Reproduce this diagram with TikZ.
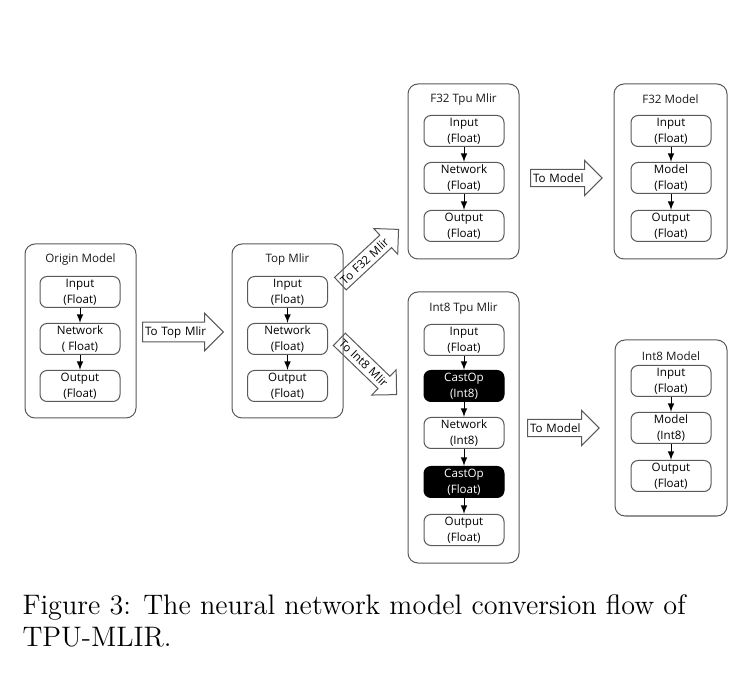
\documentclass[tikz,border=0pt]{standalone}
\usepackage{fontspec}
\newfontfamily\boxfont{Open Sans}
\usetikzlibrary{arrows,shapes.arrows}

\begin{document}
\begin{tikzpicture}[x=0.5pt,y=-0.5pt,line width=0.5pt,
    font=\boxfont\fontsize{5.8}{8}\selectfont]

      \useasboundingbox (0,0) rectangle (739,673);

      % outer frames
      \begin{scope}[every node/.style={draw=black!65,rounded corners=5pt,minimum width=55.5pt}]
        \node[minimum height=87pt] (om) at (80.5,331) {};
        \node[minimum height=87pt] (tm) at (287.5,331) {};
        \node[minimum height=87.5pt] (fm) at (463.5,171.5) {};
        \node[minimum height=87.5pt,minimum width=56.5pt] (fmod) at (670.5,171.5) {};
        \node[minimum height=135.5pt] (im) at (463.5,427.5) {};
        \node[minimum height=88pt,minimum width=56pt] (imod) at (671,428) {};
      \end{scope}

      \begin{scope}[every node/.style={text=black!90}]
        \node (omt) at (80.5,259) {Origin Model};
        \node (tmt) at (287.5,259) {Top Mlir};
        \node (fmt) at (463.5,99) {F32 Tpu Mlir};
        \node (fmodt) at (670.5,99) {F32 Model};
        \node (imt) at (463.5,308) {Int8 Tpu Mlir};
        \node (imodt) at (671,356) {Int8 Model};
      \end{scope}

      % inner boxes
      \begin{scope}[every node/.style={draw=black!65,rounded corners=3.5pt,minimum width=40pt,
          minimum height=15.5pt,inner sep=0pt,align=center}]
        \node (o1) at (80,292) {Input\\(Float)};
        \node (o2) at (80,339) {Network\\( Float)};
        \node (o3) at (80,386) {Output\\(Float)};

        \node (t1) at (287.5,292) {Input\\(Float)};
        \node (t2) at (287.5,339) {Network\\(Float)};
        \node (t3) at (287.5,386) {Output\\(Float)};

        \node (f1) at (464,131) {Input\\(Float)};
        \node (f2) at (464,178) {Network\\(Float)};
        \node (f3) at (464,226) {Output\\(Float)};

        \node (g1) at (671,131) {Input\\(Float)};
        \node (g2) at (671,178) {Model\\(Float)};
        \node (g3) at (671,226) {Output\\(Float)};

        \node (i1) at (464,340) {Input\\(Float)};
        \node[fill=black,text=white,draw=black] (i2) at (464,386) {CastOp\\(Int8)};
        \node (i3) at (464,433) {Network\\(Int8)};
        \node[fill=black,text=white,draw=black] (i4) at (464,482) {CastOp\\(Float)};
        \node (i5) at (464,530) {Output\\(Float)};

        \node (j1) at (671,381) {Input\\(Float)};
        \node (j2) at (671,428) {Model\\(Int8)};
        \node (j3) at (671,476) {Output\\(Float)};
      \end{scope}

      \begin{scope}[every edge/.style={draw,-latex}]
        \path (o1) edge (o2);
        \path (o2) edge (o3);
        \path (t1) edge (t2);
        \path (t2) edge (t3);
        \path (f1) edge (f2);
        \path (f2) edge (f3);
        \path (g1) edge (g2);
        \path (g2) edge (g3);
        \path (i1) edge (i2);
        \path (i2) edge (i3);
        \path (i3) edge (i4);
        \path (i4) edge (i5);
        \path (j1) edge (j2);
        \path (j2) edge (j3);
      \end{scope}

      % conversion arrows
      \begin{scope}[every node/.style={single arrow,draw=black!65,single arrow head extend=4.5pt,
          single arrow tip angle=90,inner xsep=1pt,inner ysep=1.8pt,align=left,anchor=tail}]
        \node[text width=33pt] (a1) at (142,332) {To Top Mlir};
        \node[text width=33pt,rotate=43] (a2) at (340,284) {To F32 Mlir};
        \node[text width=33pt,rotate=-44] (a3) at (339,339) {To Int8 Mlir};
        \node[text width=29pt] (a4) at (530,178) {To Model};
        \node[text width=29pt] (a5) at (527,428) {To Model};
      \end{scope}

      \node[anchor=north west,align=left,inner sep=0pt,
        font=\rmfamily\fontsize{14.1}{16}\selectfont] (cap) at (22,594)
        {Figure 3: The neural network model conversion flow of\\TPU-MLIR.};

    \end{tikzpicture}
\end{document}
